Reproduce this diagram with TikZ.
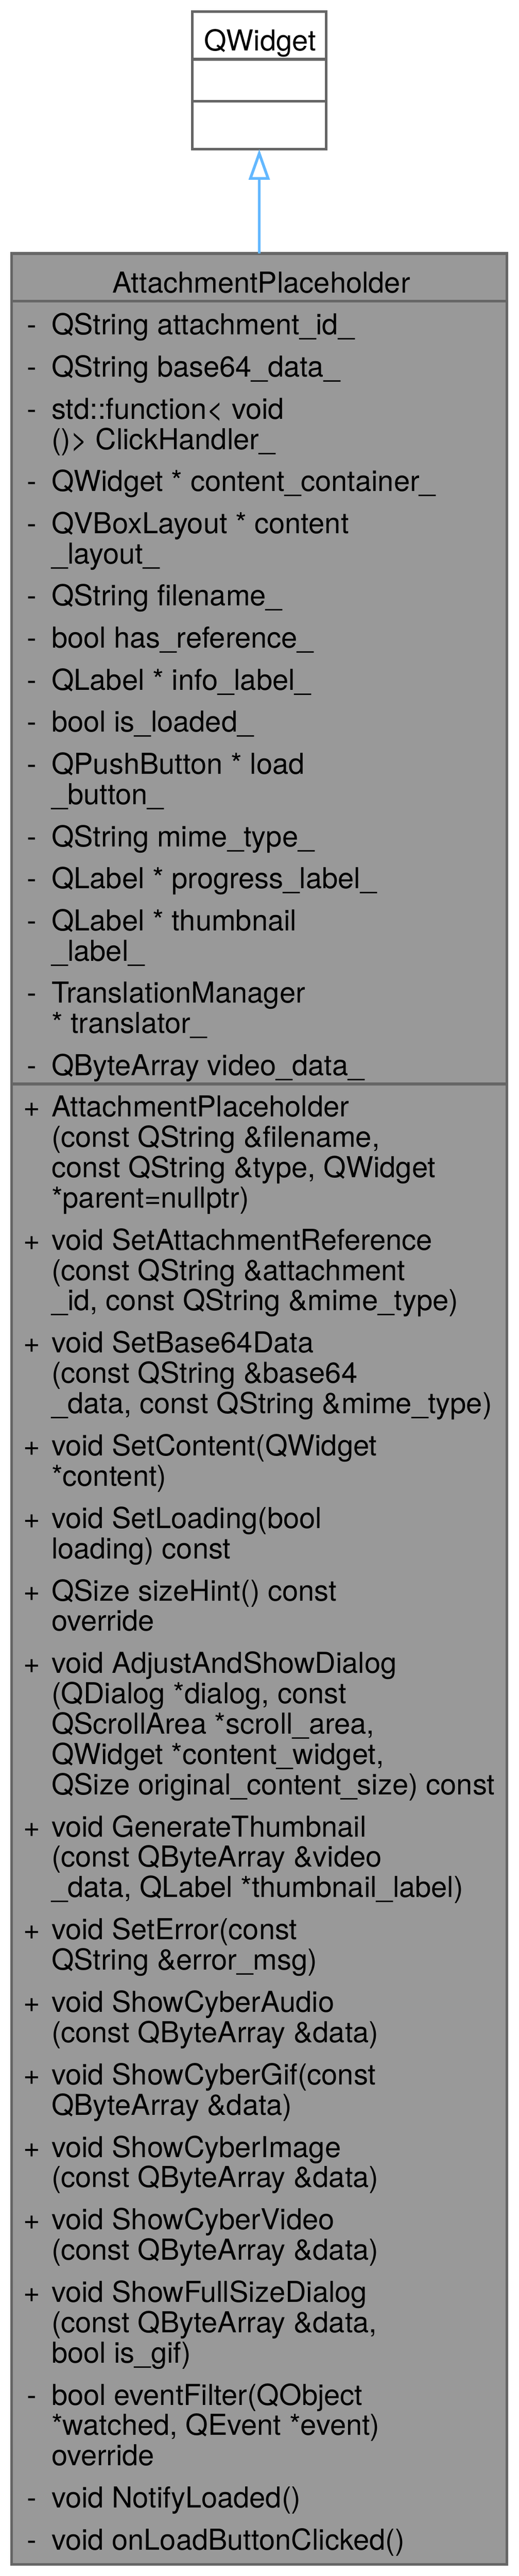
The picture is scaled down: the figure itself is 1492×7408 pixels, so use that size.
\documentclass[tikz,border=0pt]{standalone}
\usepackage{fontspec}
\setmainfont{TeX Gyre Heros}
\usetikzlibrary{arrows.meta}
\definecolor{apfill}{HTML}{999999}
\definecolor{apedge}{HTML}{666666}
\definecolor{inhblue}{HTML}{63B8FF}
\newcommand\apmem[4]{%
  \node[memsym] (s#1) at (92,#3) {#2};
  \node[memtext] (t#1) at (148,#3) {\parbox[t]{1400pt}{\raggedright\lineskiplimit=-\maxdimen #4}};}
\begin{document}
\begin{tikzpicture}[x=1pt, y=-1pt,
  font=\fontsize{83}{87.1}\selectfont,
  classbox/.style={draw=apedge, line width=8pt, inner sep=0pt, outer sep=0pt, anchor=north west},
  divider/.style={draw=apedge, line width=8pt},
  memsym/.style={inner sep=0pt, anchor=base},
  memtext/.style={inner sep=0pt, anchor=base west},
  inherit/.style={draw=inhblue, line width=8pt, -{Triangle[open, length=88pt, width=60pt]}}]
\path[use as bounding box, fill=white] (0,0) rectangle (1492,7408);
% QWidget
\node[classbox, fill=white, minimum width=386pt, minimum height=396pt] (qw) at (553,33) {};
\draw[divider] (553,170.5) -- (939,170.5);
\draw[divider] (553,291) -- (939,291);
\node[memsym] (qwtitle) at (748,146) {QWidget};
% AttachmentPlaceholder
\node[classbox, fill=apfill, minimum width=1426pt, minimum height=6645.5pt] (ap) at (33,729) {};
\draw[divider] (33,866) -- (1459,866);
\draw[divider] (33,3117) -- (1459,3117);
\node[memsym] (aptitle) at (752,841.7) {AttachmentPlaceholder};
% inheritance
\draw[inherit] (ap.north) -- (qw.south);
% attributes
\apmem{a1}{-}{963}{QString attachment\_id\_}
\apmem{a2}{-}{1084}{QString base64\_data\_}
\apmem{a3}{-}{1205}{std::function< void\\()> ClickHandler\_}
\apmem{a4}{-}{1413.1}{QWidget * content\_container\_}
\apmem{a5}{-}{1534.1}{QVBoxLayout * content\\\_layout\_}
\apmem{a6}{-}{1742.2}{QString filename\_}
\apmem{a7}{-}{1863.2}{bool has\_reference\_}
\apmem{a8}{-}{1984.2}{QLabel * info\_label\_}
\apmem{a9}{-}{2105.2}{bool is\_loaded\_}
\apmem{a10}{-}{2226.2}{QPushButton * load\\\_button\_}
\apmem{a11}{-}{2434.3}{QString mime\_type\_}
\apmem{a12}{-}{2555.3}{QLabel * progress\_label\_}
\apmem{a13}{-}{2676.3}{QLabel * thumbnail\\\_label\_}
\apmem{a14}{-}{2884.4}{TranslationManager\\{}* translator\_}
\apmem{a15}{-}{3092.5}{QByteArray video\_data\_}
% methods
\apmem{m1}{+}{3212}{AttachmentPlaceholder\\(const QString \&filename,\\const QString \&type, QWidget\\{}*parent=nullptr)}
\apmem{m2}{+}{3594.8}{void SetAttachmentReference\\(const QString \&attachment\\\_id, const QString \&mime\_type)}
\apmem{m3}{+}{3890.5}{void SetBase64Data\\(const QString \&base64\\\_data, const QString \&mime\_type)}
\apmem{m4}{+}{4186.2}{void SetContent(QWidget\\{}*content)}
\apmem{m5}{+}{4394.8}{void SetLoading(bool\\loading) const}
\apmem{m6}{+}{4603.4}{QSize sizeHint() const\\override}
\apmem{m7}{+}{4812}{void AdjustAndShowDialog\\(QDialog *dialog, const\\QScrollArea *scroll\_area,\\QWidget *content\_widget,\\QSize original\_content\_size) const}
\apmem{m8}{+}{5281.9}{void GenerateThumbnail\\(const QByteArray \&video\\\_data, QLabel *thumbnail\_label)}
\apmem{m9}{+}{5577.6}{void SetError(const\\QString \&error\_msg)}
\apmem{m10}{+}{5786.2}{void ShowCyberAudio\\(const QByteArray \&data)}
\apmem{m11}{+}{5994.8}{void ShowCyberGif(const\\QByteArray \&data)}
\apmem{m12}{+}{6203.4}{void ShowCyberImage\\(const QByteArray \&data)}
\apmem{m13}{+}{6412}{void ShowCyberVideo\\(const QByteArray \&data)}
\apmem{m14}{+}{6620.6}{void ShowFullSizeDialog\\(const QByteArray \&data,\\bool is\_gif)}
\apmem{m15}{-}{6916.3}{bool eventFilter(QObject\\{}*watched, QEvent *event)\\override}
\apmem{m16}{-}{7212}{void NotifyLoaded()}
\apmem{m17}{-}{7333.5}{void onLoadButtonClicked()}
\end{tikzpicture}
\end{document}
